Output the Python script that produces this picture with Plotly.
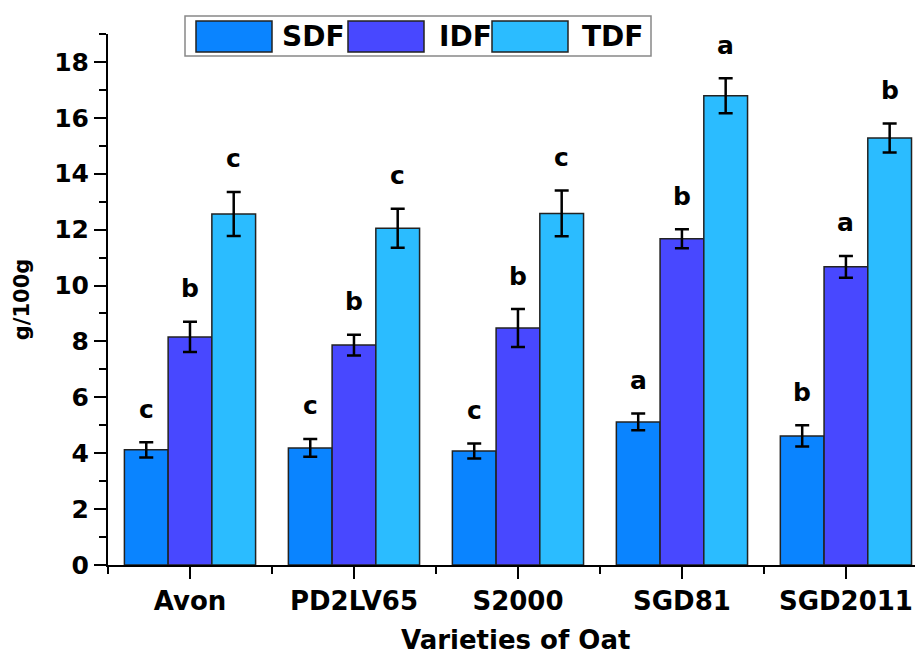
import plotly.graph_objects as go

categories = ["Avon", "PD2LV65", "S2000", "SGD81", "SGD2011"]
series_names = ["SDF", "IDF", "TDF"]
sdf = [4.12, 4.19, 4.08, 5.12, 4.62]
sdf_err = [0.27, 0.32, 0.27, 0.30, 0.38]
idf = [8.16, 7.87, 8.48, 11.67, 10.67]
idf_err = [0.54, 0.37, 0.68, 0.34, 0.39]
tdf = [12.56, 12.05, 12.58, 16.79, 15.28]
tdf_err = [0.79, 0.70, 0.82, 0.63, 0.52]
sdf_letters = ["c", "c", "c", "a", "b"]
idf_letters = ["b", "b", "b", "b", "a"]
tdf_letters = ["c", "c", "c", "a", "b"]
y_ticks = [0, 2, 4, 6, 8, 10, 12, 14, 16, 18]

colors = ["#0A84FF", "#4848FF", "#2BBCFF"]
values = [sdf, idf, tdf]
errors = [sdf_err, idf_err, tdf_err]
letters = [sdf_letters, idf_letters, tdf_letters]

FONT = "DejaVu Sans"
OFF = 8  # page body margin of the default html
W, H = 923 - OFF, 652 - OFF
ML, MR, MT, MB = 108 - OFF, 0, 34 - OFF, 87
bargap = 0.2

x = list(range(len(categories)))
fig = go.Figure()
for s in range(3):
    fig.add_trace(go.Bar(
        x=x, y=values[s], name=series_names[s],
        marker=dict(color=colors[s], line=dict(color="#222222", width=1.5)),
        error_y=dict(type="data", array=errors[s], color="black",
                     thickness=2.5, width=7),
        showlegend=False,
    ))

bw = (1 - bargap) / 3
annotations = []
for s in range(3):
    for i in range(len(categories)):
        annotations.append(dict(
            x=i + (s - 1) * bw, y=values[s][i] + errors[s][i],
            xref="x", yref="y", text=letters[s][i], showarrow=False,
            yanchor="middle", yshift=33,
            font=dict(family=FONT, size=25, color="black", weight="bold"),
        ))

# custom legend (paper coordinates computed from page pixel layout)
pw = W - ML - MR
ph = H - MT - MB
def px(xp):
    return (xp - OFF - ML) / pw
def py(yp):
    return (H - MB - (yp - OFF)) / ph

shapes = [dict(type="rect", xref="paper", yref="paper",
               x0=px(185), x1=px(651), y0=py(56), y1=py(16),
               line=dict(color="#888888", width=1.5), fillcolor="white", layer="above")]
sw_left = [196, 348, 492]
txt_left = [280, 437, 580]
for s in range(3):
    shapes.append(dict(type="rect", xref="paper", yref="paper",
                       x0=px(sw_left[s]), x1=px(sw_left[s] + 76),
                       y0=py(52), y1=py(21),
                       line=dict(color="#222222", width=1.5),
                       fillcolor=colors[s], layer="above"))
    annotations.append(dict(x=px(txt_left[s]), y=py(36.5), xref="paper", yref="paper",
                            text=series_names[s], showarrow=False,
                            xanchor="left", yanchor="middle",
                            font=dict(family=FONT, size=28, color="black", weight="bold")))

# x-axis title (placed below the margin edge like the reference)
annotations.append(dict(x=0.5, y=py(640), xref="paper", yref="paper",
                        text="Varieties of Oat", showarrow=False,
                        xanchor="center", yanchor="middle",
                        font=dict(family=FONT, size=26, color="black", weight="bold")))

fig.update_layout(
    width=W, height=H,
    margin=dict(l=ML, r=MR, t=MT, b=MB),
    template="none",
    paper_bgcolor="white", plot_bgcolor="white",
    barmode="group", bargap=bargap, bargroupgap=0,
    annotations=annotations, shapes=shapes,
    showlegend=False,
)
fig.update_xaxes(
    range=[-0.5, 4.47], tickmode="array", tickvals=x, ticktext=categories,
    showgrid=False, zeroline=False, showline=True, linecolor="black", linewidth=2,
    ticks="outside", ticklen=12, tickwidth=2, tickcolor="black",
    tickfont=dict(family=FONT, size=26, color="black", weight="bold"),
    minor=dict(tickmode="linear", tick0=-0.5, dtick=1, ticks="outside",
               ticklen=7, tickwidth=2, tickcolor="black", showgrid=False),
    automargin=False,
)
fig.update_yaxes(
    range=[0, 19], tickmode="array", tickvals=y_ticks,
    showgrid=False, zeroline=False, showline=True, linecolor="black", linewidth=2,
    ticks="outside", ticklen=12, tickwidth=2, tickcolor="black",
    tickfont=dict(family=FONT, size=25, color="black", weight="bold"),
    minor=dict(tickmode="linear", tick0=1, dtick=2, ticks="outside",
               ticklen=7, tickwidth=2, tickcolor="black", showgrid=False),
    title=dict(text="g/100g", standoff=19,
               font=dict(family=FONT, size=21, color="black", weight="bold")),
    automargin=False,
)

fig.write_html("out.html")
